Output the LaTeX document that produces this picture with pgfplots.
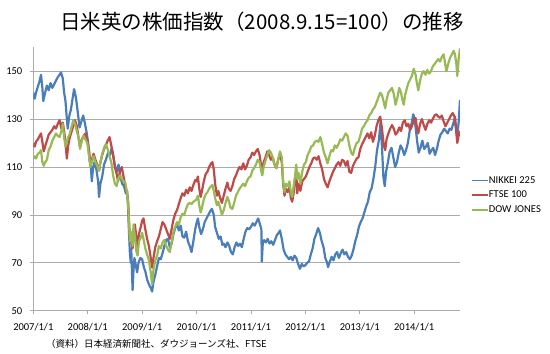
\documentclass[border=0pt]{standalone}
\usepackage{fontspec}
\usepackage{pgfplots}
\pgfplotsset{compat=1.18}
\setmainfont{Carlito}
\newfontfamily\cjk{Noto Sans CJK JP}
\definecolor{nikkei}{HTML}{4A7EBB}
\definecolor{ftse}{HTML}{BE4B48}
\definecolor{dow}{HTML}{98B954}
\definecolor{gridgray}{HTML}{ABABAB}
\begin{document}
\begin{tikzpicture}
\useasboundingbox (0,0) rectangle (550pt,354pt);
\begin{axis}[
  at={(33.3pt,43.3pt)}, anchor=south west,
  scale only axis, width=426.7pt, height=263.5pt,
  xmin=0, xmax=94.1, ymin=50, ymax=160,
  axis x line*=bottom, axis y line*=left,
  axis line style={gridgray, line width=0.75pt},
  xtick={0,12,24,36,48,60,72,84},
  xticklabels={2007/1/1,2008/1/1,2009/1/1,2010/1/1,2011/1/1,2012/1/1,2013/1/1,2014/1/1},
  ytick={50,70,90,110,130,150},
  tick align=outside, major tick length=3.5pt,
  tick style={gridgray, line width=0.75pt},
  ymajorgrids, grid style={gridgray, line width=0.75pt},
  tick label style={font=\fontsize{10.5}{12}\selectfont, black},
  yticklabel style={xshift=-4pt},
  xticklabel style={yshift=-5pt},
  /pgf/number format/assume math mode=true,
  legend style={at={(1.026,0.438)}, anchor=west, draw=none, fill=none,
    font=\fontsize{10.5}{12}\selectfont, row sep=5.5pt, inner sep=0pt,
    nodes={inner sep=0.5pt, anchor=west}},
  legend cell align=left,
  legend image code/.code={\draw[#1, line width=1.6pt] (0pt,0pt) -- (15.5pt,0pt);},
  every axis plot/.append style={line width=2.2pt, line join=round},
]
\addplot[nikkei] coordinates {
(0,141)(0.3,138.5)(0.6,141)(1.0,143.5)(1.4,146)(1.7,148.5)(2.0,143)(2.2,137.5)(2.6,141)(3.0,144)
(3.4,142)(3.8,145)(4.2,143)(4.6,144.5)(5.0,146)(5.4,147.5)(5.8,148.5)(6.1,149.5)(6.5,147)(6.8,141)
(7.1,137.5)(7.4,130)(7.6,126)(7.9,131)(8.3,134)(8.7,139)(9.0,142.5)(9.4,139)(9.8,133)(10.2,126.5)
(10.6,129)(11.0,131.5)(11.4,128)(11.8,124)(12.1,120)(12.4,113)(12.7,110)(12.9,104)(13.2,110)(13.5,112)
(13.9,109)(14.3,104)(14.5,97.5)(14.8,103)(15.2,106)(15.6,111)(16.0,113)(16.5,116)(16.9,115)(17.3,118)
(17.6,115)(18.0,110.5)(18.4,108)(18.8,111)(19.2,106)(19.6,103)(20.0,102)(20.4,99)(20.7,100)(20.9,93)
(21.1,83)(21.3,74)(21.5,70)(21.6,76)(21.8,64)(21.9,58.6)(22.1,67)(22.3,72)(22.6,69)(22.9,66)
(23.2,70)(23.6,72)(24.0,71.5)(24.4,68)(24.7,66.5)(25.1,63)(25.5,61)(25.9,59.5)(26.2,58)(26.5,62)
(26.9,65)(27.3,68.5)(27.7,72)(28.1,71.5)(28.5,74)(28.9,77)(29.3,79.5)(29.7,80)(30.1,76.5)(30.5,78)
(30.9,82)(31.3,84.5)(31.7,86)(32.1,83.5)(32.5,85.5)(32.9,81)(33.3,80.5)(33.7,83)(34.1,79)(34.5,77)
(34.9,74.5)(35.3,79)(35.7,84)(36.0,86.5)(36.3,88.5)(36.6,85)(37.0,82)(37.4,84)(37.8,87)(38.2,88.5)
(38.6,90)(39.0,91.5)(39.4,92.5)(39.8,90)(40.1,85)(40.5,82.5)(40.9,80)(41.3,81)(41.7,77.5)(42.0,78)
(42.4,76.5)(42.8,78.5)(43.2,77)(43.6,74.5)(44.0,73.5)(44.4,76.5)(44.8,78.5)(45.2,77)(45.6,78)(46.0,76.5)
(46.4,80)(46.8,83)(47.2,84.5)(47.6,84)(48.0,85)(48.4,86.5)(48.8,85.5)(49.2,87)(49.6,88.5)(50.0,86)
(50.3,84)(50.4,70.5)(50.6,78)(50.9,79.5)(51.3,78.5)(51.7,80)(52.1,78)(52.5,79)(52.9,77.5)(53.3,79.5)
(53.7,81.5)(54.1,82.5)(54.4,83.5)(54.8,80)(55.2,75.5)(55.6,73.5)(56.0,72.5)(56.4,71.5)(56.8,72.5)(57.2,71)
(57.6,73)(58.0,72)(58.4,69.5)(58.8,67.5)(59.2,69.5)(59.6,68.5)(60.0,69)(60.4,70)(60.8,70.5)(61.2,73.5)
(61.6,76)(62.0,80)(62.4,82)(62.8,84.5)(63.2,82.5)(63.6,79)(64.0,76.5)(64.4,72)(64.8,70)(65.0,68.2)
(65.4,70.5)(65.8,72.5)(66.2,71)(66.6,73.5)(67.0,74.5)(67.4,72)(67.8,74)(68.2,75.5)(68.6,73.5)(69.0,74.5)
(69.4,72.5)(69.8,71.5)(70.2,73)(70.6,75.5)(71.0,79)(71.4,81.5)(71.8,85)(72.2,87)(72.6,88.5)(73.0,91)
(73.4,93.5)(73.8,95.5)(74.2,99.5)(74.6,101)(75.0,105)(75.4,110)(75.8,117)(76.2,121)(76.6,129)(76.9,118)
(77.2,106)(77.5,102)(77.8,108)(78.2,112)(78.6,116.5)(79.0,118)(79.4,114)(79.8,110)(80.2,112)(80.6,116)
(81.0,119)(81.4,117.5)(81.8,115)(82.2,117)(82.6,120)(83.0,125)(83.4,128)(83.8,132)(84.1,130)(84.4,125)
(84.7,120)(85.0,116)(85.4,118)(85.8,121)(86.2,117.5)(86.6,118.5)(87.0,120)(87.4,115.5)(87.8,117)(88.2,118)
(88.6,115)(89.0,117.5)(89.4,121)(89.8,123.5)(90.2,124.5)(90.6,126)(91.0,125)(91.4,124)(91.8,126)(92.2,125.5)
(92.6,128)(93.0,131)(93.2,127)(93.5,123)(93.8,128.5)(94.1,138)
};
\addlegendentry{NIKKEI 225}
\addplot[ftse] coordinates {
(0,120)(0.3,118.5)(0.6,120.5)(1.0,121.5)(1.4,123)(1.7,124)(2.0,120.5)(2.3,116.5)(2.6,118.5)(3.0,121)
(3.4,123.5)(3.8,124.5)(4.2,125.5)(4.6,127)(5.0,126)(5.4,128)(5.8,129.5)(6.2,126)(6.5,128.5)(6.8,125)
(7.1,120)(7.4,113.5)(7.7,119)(8.0,122)(8.4,124.5)(8.8,127)(9.2,129.5)(9.6,127)(10.0,122)(10.3,118.5)
(10.7,121.5)(11.1,123)(11.5,124)(11.9,121)(12.3,117)(12.6,110.5)(12.9,113)(13.3,115.5)(13.7,113)(14.1,111)
(14.5,108.5)(14.8,112)(15.2,115)(15.6,117.5)(16.0,119)(16.4,121)(16.8,122.5)(17.2,119)(17.6,115)(18.0,110)
(18.4,107)(18.7,104)(19.1,108)(19.5,110)(19.9,106)(20.3,102)(20.6,99.5)(20.9,96)(21.1,88)(21.3,80)
(21.5,82)(21.7,78)(21.9,76)(22.1,83)(22.4,86)(22.7,81)(23.0,77)(23.3,82)(23.7,85)(24.0,87.5)
(24.3,88.5)(24.7,84)(25.1,80)(25.5,77)(25.9,72)(26.2,68)(26.5,72)(26.9,76.5)(27.3,79)(27.7,81)
(28.1,84)(28.5,87)(28.9,86)(29.3,84)(29.7,82)(30.1,80)(30.5,84)(30.9,88)(31.3,90.5)(31.7,92)
(32.1,94.5)(32.5,97)(32.9,99)(33.3,98)(33.7,100.5)(34.1,99)(34.5,101.5)(34.9,100)(35.3,102.5)(35.7,104.5)
(36.0,104)(36.3,106)(36.6,101)(36.9,97.5)(37.2,100)(37.6,104)(38.0,107)(38.4,108)(38.8,110)(39.2,111.5)
(39.5,112)(39.8,109)(40.1,103)(40.5,98)(40.8,100)(41.2,97)(41.6,95)(42.0,98)(42.4,101)(42.8,103.5)
(43.1,101)(43.5,100)(43.9,102)(44.3,105)(44.7,106.5)(45.1,108.5)(45.5,110)(45.9,109)(46.3,111.5)(46.7,109)
(47.1,110.5)(47.5,113)(47.9,114)(48.3,116)(48.7,115)(49.1,116.5)(49.5,117.5)(49.9,115)(50.3,110)(50.5,108)
(50.8,112)(51.2,114)(51.6,116.5)(52.0,115)(52.4,113)(52.8,114)(53.2,111)(53.6,109.5)(54.0,113)(54.4,115.5)
(54.8,112)(55.1,103)(55.4,98)(55.7,101)(56.1,99.5)(56.5,101.5)(56.8,97)(57.1,95.5)(57.4,99)(57.7,104)
(58.0,107.5)(58.2,99)(58.5,103)(58.9,100)(59.3,104)(59.7,105)(60.1,106)(60.5,108)(60.9,110)(61.3,111.5)
(61.7,113.5)(62.1,114)(62.5,113)(62.9,114.5)(63.3,111.5)(63.7,109)(64.1,105)(64.5,103)(64.9,101.5)(65.3,104)
(65.7,106)(66.1,108)(66.5,109.5)(66.9,111)(67.3,112)(67.7,110.5)(68.1,113)(68.5,112.5)(68.9,110.5)(69.3,112.5)
(69.7,108)(70.1,107.5)(70.5,110.5)(70.9,112)(71.3,113.5)(71.7,114)(72.1,117.5)(72.5,119.5)(72.9,121)(73.3,122.5)
(73.7,124)(74.1,122)(74.5,124.5)(74.9,120.5)(75.3,123)(75.7,127)(76.1,129.5)(76.5,131)(76.9,126)(77.3,119)
(77.6,117)(77.9,121.5)(78.3,124)(78.7,126)(79.1,127.5)(79.5,126)(79.9,123.5)(80.3,124.5)(80.7,126.5)(81.1,125)
(81.5,128.5)(81.9,129.5)(82.3,127)(82.7,128)(83.1,125.5)(83.5,127)(83.9,129.5)(84.3,130.5)(84.6,126.5)(84.9,124)
(85.3,128)(85.7,130)(86.1,127.5)(86.5,125.5)(86.9,128)(87.3,129.5)(87.7,128.5)(88.1,130)(88.5,131.5)(88.9,132)
(89.3,131)(89.7,130.5)(90.1,131.5)(90.5,129)(90.9,127)(91.3,128.5)(91.7,130)(92.1,131.5)(92.5,132.5)(92.9,131)
(93.2,126)(93.5,120)(93.8,123)(94.1,125)
};
\addlegendentry{FTSE 100}
\addplot[dow] coordinates {
(0,113.5)(0.3,114.5)(0.6,113.5)(1.0,115.5)(1.4,116)(1.7,117)(2.0,112)(2.3,110.5)(2.6,112)(3.0,113)
(3.4,117)(3.8,118.5)(4.2,121)(4.6,122.5)(5.0,124)(5.4,123)(5.8,122.5)(6.2,125)(6.5,128)(6.8,122.5)
(7.1,118.5)(7.4,120.5)(7.7,122.5)(8.0,123.5)(8.4,126.5)(8.8,129.5)(9.2,128)(9.6,125)(10.0,122)(10.3,117.5)
(10.7,121)(11.1,123)(11.5,121.5)(11.9,120)(12.3,114.5)(12.6,110)(12.9,112)(13.3,114.5)(13.7,112)(14.1,110.5)
(14.5,108.5)(14.8,112)(15.2,115.5)(15.6,118)(16.0,119.5)(16.4,117.5)(16.8,114.5)(17.2,112)(17.6,106.5)(18.0,103)
(18.4,102)(18.7,105)(19.1,106.5)(19.5,105)(19.9,104)(20.3,103.5)(20.6,100)(20.9,95)(21.1,87)(21.3,79)
(21.5,83)(21.7,80)(21.9,77)(22.1,86)(22.4,81)(22.7,75)(23.0,73)(23.3,79)(23.7,80.5)(24.0,82.5)
(24.3,80)(24.7,76)(25.1,73.5)(25.5,71)(25.9,66)(26.2,61)(26.5,67)(26.9,71)(27.3,73)(27.7,77)
(28.1,76)(28.5,78.5)(28.9,79.5)(29.3,77)(29.7,75.5)(30.1,74.5)(30.5,78.5)(30.9,83)(31.3,85)(31.7,87)
(32.1,86)(32.5,89)(32.9,90.5)(33.3,90)(33.7,92.5)(34.1,94.5)(34.5,95)(34.9,94.5)(35.3,95.5)(35.7,96)
(36.0,96.5)(36.3,98)(36.6,94)(36.9,91)(37.2,93)(37.6,96.5)(38.0,98.5)(38.4,99.5)(38.8,101)(39.2,102)
(39.5,102.5)(39.8,100)(40.1,97)(40.5,94)(40.8,95.5)(41.2,93)(41.6,90)(42.0,92)(42.4,95)(42.8,97.5)
(43.1,96)(43.5,93)(43.9,92.5)(44.3,95)(44.7,98)(45.1,99.5)(45.5,101)(45.9,102)(46.3,103)(46.7,102)
(47.1,104)(47.5,105.5)(47.9,106)(48.3,108.5)(48.7,109.5)(49.1,111)(49.5,113)(49.9,112)(50.3,108)(50.5,106.5)
(50.8,110)(51.2,112.5)(51.6,115)(52.0,117)(52.4,116)(52.8,114)(53.2,111)(53.6,109.5)(54.0,113)(54.4,116.5)
(54.8,114)(55.1,104)(55.4,99.5)(55.7,103)(56.1,102)(56.5,104)(56.8,99)(57.1,97.5)(57.4,102)(57.7,106)
(58.0,111)(58.2,105)(58.5,107.5)(58.9,103)(59.3,108)(59.7,111)(60.1,112)(60.5,115)(60.9,116.5)(61.3,118.5)
(61.7,119)(62.1,120.5)(62.5,121)(62.9,120.5)(63.3,122.5)(63.7,119.5)(64.1,116)(64.5,114)(64.9,111.5)(65.3,114.5)
(65.7,117)(66.1,116.5)(66.5,119)(66.9,118)(67.3,119.5)(67.7,121.5)(68.1,121)(68.5,122.5)(68.9,124)(69.3,123)
(69.7,119)(70.1,116)(70.5,115)(70.9,118)(71.3,120)(71.7,120.5)(72.1,123)(72.5,126)(72.9,127)(73.3,128.5)
(73.7,129.5)(74.1,131.5)(74.5,132.5)(74.9,134)(75.3,135)(75.7,137)(76.1,139)(76.5,141)(76.9,140)(77.3,137)
(77.6,134.5)(77.9,138)(78.3,141)(78.7,142)(79.1,143)(79.5,140.5)(79.9,136)(80.3,139)(80.7,143)(81.1,141)
(81.4,138)(81.7,136)(82.0,140)(82.4,143)(82.7,145)(83.1,146.5)(83.5,148)(83.9,151)(84.3,148.5)(84.6,145)
(84.9,142)(85.3,146)(85.7,149)(86.1,150)(86.5,148.5)(86.9,150.5)(87.3,149)(87.7,150)(88.1,152)(88.5,153)
(88.9,154)(89.3,155)(89.7,154)(90.1,156)(90.5,157)(90.8,153.5)(91.1,150)(91.5,153)(91.9,155.5)(92.3,157)
(92.7,158.5)(93.0,157)(93.3,153)(93.5,148)(93.8,155)(94.1,159.5)
};
\addlegendentry{DOW JONES}
\end{axis}
\node[font=\cjk\fontsize{20.5}{24}\selectfont, inner sep=0pt] at (262pt,332pt) {日米英の株価指数（2008.9.15=100）の推移};
\node[font=\cjk\fontsize{9.5}{12}\selectfont, inner sep=0pt, anchor=west] at (46pt,10pt) {（資料）日本経済新聞社、ダウジョーンズ社、FTSE};
\end{tikzpicture}
\end{document}
